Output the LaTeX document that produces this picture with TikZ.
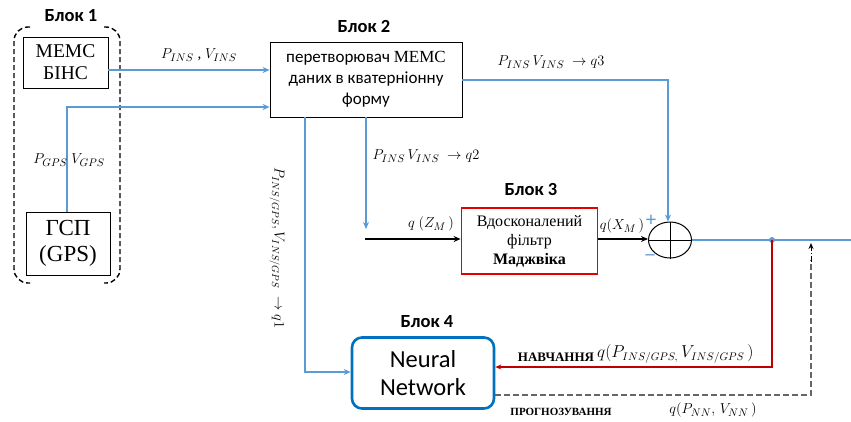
\documentclass[tikz,border=0pt]{standalone}
\usepackage{fontspec}
\setmainfont{Liberation Serif}
\newfontfamily\carl{Carlito}
\usetikzlibrary{arrows.meta,shapes.geometric}
\definecolor{lblue}{RGB}{91,155,213}
\definecolor{nnblue}{RGB}{0,112,192}
\definecolor{fred}{RGB}{230,0,0}
\definecolor{dred}{RGB}{192,0,0}
\begin{document}
\begin{tikzpicture}[x=1pt,y=-1pt,
  blk/.style={font=\carl\bfseries\fontsize{18.5}{18.5}\selectfont},
  plain/.style={draw,line width=0.8pt,inner sep=0pt},
  bluearr/.style={draw=lblue,line width=1.3pt,-{Stealth[length=7pt,width=6pt]}},
  blueln/.style={draw=lblue,line width=1.3pt},
  blackarr/.style={draw,line width=1.3pt,-{Stealth[length=7pt,width=6pt]}},
  lbl/.style={font=\fontsize{15}{15}\selectfont,inner sep=1pt}]
\useasboundingbox (0,0) rectangle (851,421);

% block 1 frame: two dashed brackets
\draw[line width=1.4pt,dash pattern=on 5pt off 3pt,rounded corners=14pt]
  (30,27) -- (14,27) -- (14,283) -- (30,283);
\draw[line width=1.4pt,dash pattern=on 5pt off 3pt,rounded corners=14pt]
  (104,27) -- (120,27) -- (120,283) -- (104,283);
\node[blk] (b1) at (71,16) {Блок 1};

\node[plain,minimum width=85pt,minimum height=51pt,align=center,
  font=\fontsize{19.5}{22}\selectfont] (mems) at (65.5,62.5) {МЕМС\\БІНС};
\node[plain,minimum width=84pt,minimum height=63pt,align=center,
  font=\fontsize{23}{26}\selectfont] (gps) at (68,243.5) {ГСП\\(GPS)};

% block 2
\node[blk] (b2) at (364,26) {Блок 2};
\node[plain,minimum width=192pt,minimum height=75pt,align=center,
  font=\carl\fontsize{17}{21}\selectfont] (conv) at (366,79.5)
  {перетворювач {\rmfamily МЕМС}\\даних в кватерніонну\\форму};

% block 3
\node[blk] (b3) at (531,189) {Блок 3};
\node[draw=fred,line width=1.8pt,minimum width=136pt,minimum height=66pt,
  align=center,inner sep=0pt,font=\fontsize{16}{19}\selectfont] (mad) at (529.5,241)
  {Вдосконалений\\фільтр\\\textbf{Маджвіка}};

% summing junction
\node[draw,line width=1pt,ellipse,minimum width=43pt,minimum height=36pt,
  inner sep=0pt] (sum) at (670,240) {};
\draw[line width=1pt] (sum.north) -- (sum.south) (sum.west) -- (sum.east);
\node[text=lblue,font=\bfseries\fontsize{20}{20}\selectfont,inner sep=0pt] (plus) at (651,221) {+};
\node[text=lblue,font=\bfseries\fontsize{18}{18}\selectfont,inner sep=0pt] (minus) at (650,257) {--};

% block 4
\node[blk] (b4) at (427,322) {Блок 4};
\node[draw=nnblue,line width=2.6pt,rounded corners=10pt,minimum width=142pt,
  minimum height=71pt,align=center,font=\carl\fontsize{24.5}{28}\selectfont] (nn)
  at (423,373) {Neural\\Network};

% sensor links
\draw[bluearr] (mems.east |- 0,70) -- (conv.west |- 0,70);
\node[lbl] (lins) at (199,55) {$P_{INS}$ , $V_{INS}$};
\coordinate (gc) at (67,107);
\draw[bluearr] (gps.north -| gc) -- (gc) -- (conv.west |- gc);
\node[lbl,inner sep=0pt] (lgps) at (69,160) {$P_{GPS}\;V_{GPS}$};

% q3 branch
\coordinate (q3c) at (668,80);
\draw[bluearr] (conv.east |- q3c) -- (q3c) -- (sum.north -| q3c);
\node[lbl] (lq3) at (551,62) {$P_{INS}\,V_{INS}\ \rightarrow q3$};

% q2 branch
\coordinate (q2e) at (366,229);
\draw[bluearr] (conv.south -| q2e) -- (q2e);
\node[lbl] (lq2) at (426,156) {$P_{INS}\,V_{INS}\ \rightarrow q2$};

% q1 branch to the neural network
\coordinate (q1c) at (305,372);
\draw[bluearr] (conv.south -| q1c) -- (q1c) -- (nn.west |- q1c);
\node[lbl,font=\fontsize{14}{14}\selectfont,rotate=-90] (lq1) at (277,248)
  {$P_{INS/GPS}, V_{INS/GPS}\ \rightarrow q1$};

% filter chain
\coordinate (zin) at (365,239);
\draw[blackarr] (zin) -- (mad.west |- zin);
\node[lbl] (lzm) at (431,224) {$q\ (Z_M\,)$};
\draw[blackarr] (mad.east |- 0,239) -- (sum.west |- 0,239);
\node[lbl] (lxm) at (622,226) {$q(X_M\,)$};

% output and feedback
\coordinate (tap) at (772,240);
\coordinate (outend) at (851,240);
\draw[blueln] (sum.east) -- (outend);
\fill[lblue] (tap) circle (3pt);
\coordinate (rc) at (772,367);
\draw[draw=dred,line width=1.6pt,-{Stealth[length=6pt,width=5pt]}] (tap) -- (rc) -- (nn.east |- rc);
\node[font=\bfseries\fontsize{13}{13}\selectfont,inner sep=0pt] (train) at (556,357) {НАВЧАННЯ};
\node[lbl,font=\fontsize{16}{16}\selectfont,anchor=west] (ltrain) at (596,354)
  {$q(P_{INS/GPS,}\, V_{INS/GPS}\,)$};

\coordinate (dc) at (811,395);
\coordinate (dtop) at (811,243);
\draw[gray!80!black,line width=1.2pt,dash pattern=on 6pt off 3pt] (nn.east |- dc) -- (dc) -- (811,260);
\draw[line width=1pt,dash pattern=on 6pt off 2pt on 1pt off 2pt,-{Stealth[length=6pt,width=5pt]}] (811,262) -- (dtop);
\node[font=\bfseries\fontsize{11}{11}\selectfont,inner sep=0pt] (pred) at (561,412) {ПРОГНОЗУВАННЯ};
\node[lbl] (lpred) at (713,410) {$q(P_{NN},\, V_{NN}\,)$};
\end{tikzpicture}
\end{document}
